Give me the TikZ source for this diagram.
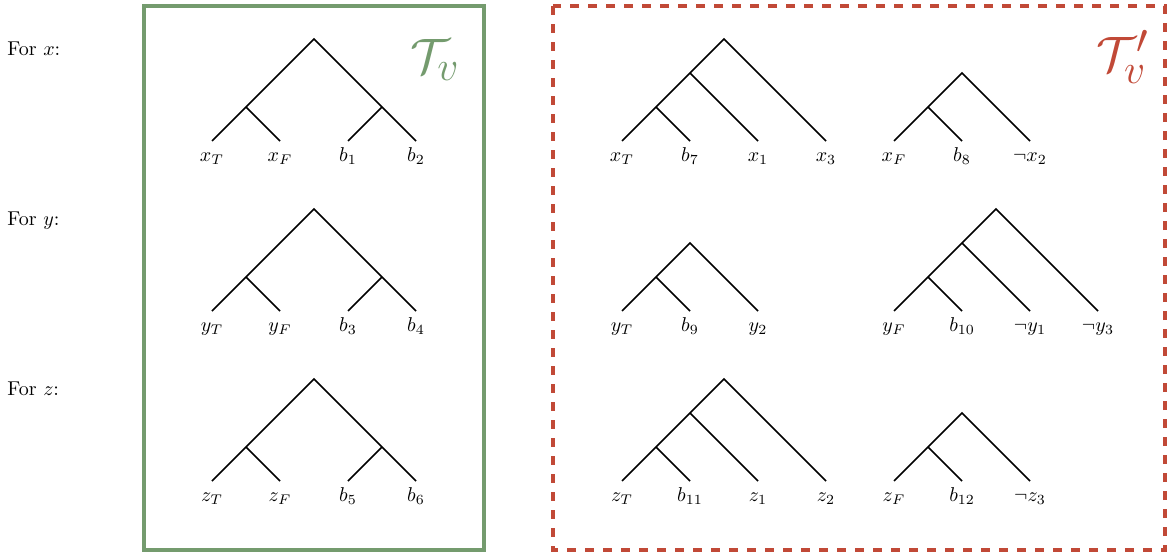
\documentclass[tikz,border=0pt]{standalone}
\usepackage{amsmath,amssymb}
\usepackage{tikz}
\usetikzlibrary{positioning}
\definecolor{tvgreen}{RGB}{116,155,110}
\definecolor{tvred}{RGB}{193,73,55}
\tikzset{
  leaf/.style={anchor=north,inner sep=1pt,text height=9pt,text depth=2.5pt},
  branch/.style={line width=0.8pt},
  rowlab/.style={anchor=base west,inner sep=0pt},
  gbox/.style={draw=tvgreen,line width=2pt},
  rbox/.style={draw=tvred,line width=2pt,dash pattern=on 4.5pt off 4.5pt},
  setname/.style={font=\Huge}
}
\begin{document}
\begin{tikzpicture}[x=0.5pt,y=-0.5pt]
\useasboundingbox (0,0) rectangle (1170,557);
% the two sets of trees
\draw[gbox] (144,6) rectangle (484,550);
\draw[rbox] (553,6) rectangle (1165,550);
\node[setname,text=tvgreen] (tv) at (435,60) {$\mathcal{T}_v$};
\node[setname,text=tvred] (tvp) at (1123,57) {$\mathcal{T}'_v$};
% row labels
\node[rowlab] (forx) at (7,55) {For $x$:};
\node[rowlab] (fory) at (7,225) {For $y$:};
\node[rowlab] (forz) at (7,395) {For $z$:};
% T_v, x
\node[leaf] (gxT) at (212,141) {$x_T$}; \node[leaf] (gxF) at (280,141) {$x_F$}; \node[leaf] (gb1) at (348,141) {$b_1$}; \node[leaf] (gb2) at (416,141) {$b_2$};
\coordinate (gxr) at (314,39); \coordinate (gxl) at (246,107); \coordinate (gxm) at (382,107);
\draw[branch] (gxT.north)--(gxr)--(gb2.north); \draw[branch] (gxl)--(gxF.north); \draw[branch] (gxm)--(gb1.north);
% T_v, y
\node[leaf] (gyT) at (212,311) {$y_T$}; \node[leaf] (gyF) at (280,311) {$y_F$}; \node[leaf] (gb3) at (348,311) {$b_3$}; \node[leaf] (gb4) at (416,311) {$b_4$};
\coordinate (gyr) at (314,209); \coordinate (gyl) at (246,277); \coordinate (gym) at (382,277);
\draw[branch] (gyT.north)--(gyr)--(gb4.north); \draw[branch] (gyl)--(gyF.north); \draw[branch] (gym)--(gb3.north);
% T_v, z
\node[leaf] (gzT) at (212,481) {$z_T$}; \node[leaf] (gzF) at (280,481) {$z_F$}; \node[leaf] (gb5) at (348,481) {$b_5$}; \node[leaf] (gb6) at (416,481) {$b_6$};
\coordinate (gzr) at (314,379); \coordinate (gzl) at (246,447); \coordinate (gzm) at (382,447);
\draw[branch] (gzT.north)--(gzr)--(gb6.north); \draw[branch] (gzl)--(gzF.north); \draw[branch] (gzm)--(gb5.north);
% T'_v, x
\node[leaf] (rxT) at (622,141) {$x_T$}; \node[leaf] (rb7) at (690,141) {$b_7$}; \node[leaf] (rx1) at (758,141) {$x_1$}; \node[leaf] (rx3) at (826,141) {$x_3$};
\coordinate (rxr) at (724,39); \coordinate (rxm) at (690,73); \coordinate (rxl) at (656,107);
\draw[branch] (rxT.north)--(rxr)--(rx3.north); \draw[branch] (rxl)--(rb7.north); \draw[branch] (rxm)--(rx1.north);
\node[leaf] (rxF) at (894,141) {$x_F$}; \node[leaf] (rb8) at (962,141) {$b_8$}; \node[leaf] (rnx2) at (1030,141) {$\neg x_2$};
\coordinate (rxFr) at (962,73); \coordinate (rxFl) at (928,107);
\draw[branch] (rxF.north)--(rxFr)--(rnx2.north); \draw[branch] (rxFl)--(rb8.north);
% T'_v, y
\node[leaf] (ryT) at (622,311) {$y_T$}; \node[leaf] (rb9) at (690,311) {$b_9$}; \node[leaf] (ry2) at (758,311) {$y_2$};
\coordinate (ryr) at (690,243); \coordinate (ryl) at (656,277);
\draw[branch] (ryT.north)--(ryr)--(ry2.north); \draw[branch] (ryl)--(rb9.north);
\node[leaf] (ryF) at (894,311) {$y_F$}; \node[leaf] (rb10) at (962,311) {$b_{10}$}; \node[leaf] (rny1) at (1030,311) {$\neg y_1$}; \node[leaf] (rny3) at (1098,311) {$\neg y_3$};
\coordinate (ryFr) at (996,209); \coordinate (ryFm) at (962,243); \coordinate (ryFl) at (928,277);
\draw[branch] (ryF.north)--(ryFr)--(rny3.north); \draw[branch] (ryFl)--(rb10.north); \draw[branch] (ryFm)--(rny1.north);
% T'_v, z
\node[leaf] (rzT) at (622,481) {$z_T$}; \node[leaf] (rb11) at (690,481) {$b_{11}$}; \node[leaf] (rz1) at (758,481) {$z_1$}; \node[leaf] (rz2) at (826,481) {$z_2$};
\coordinate (rzr) at (724,379); \coordinate (rzm) at (690,413); \coordinate (rzl) at (656,447);
\draw[branch] (rzT.north)--(rzr)--(rz2.north); \draw[branch] (rzl)--(rb11.north); \draw[branch] (rzm)--(rz1.north);
\node[leaf] (rzF) at (894,481) {$z_F$}; \node[leaf] (rb12) at (962,481) {$b_{12}$}; \node[leaf] (rnz3) at (1030,481) {$\neg z_3$};
\coordinate (rzFr) at (962,413); \coordinate (rzFl) at (928,447);
\draw[branch] (rzF.north)--(rzFr)--(rnz3.north); \draw[branch] (rzFl)--(rb12.north);
\end{tikzpicture}
\end{document}
